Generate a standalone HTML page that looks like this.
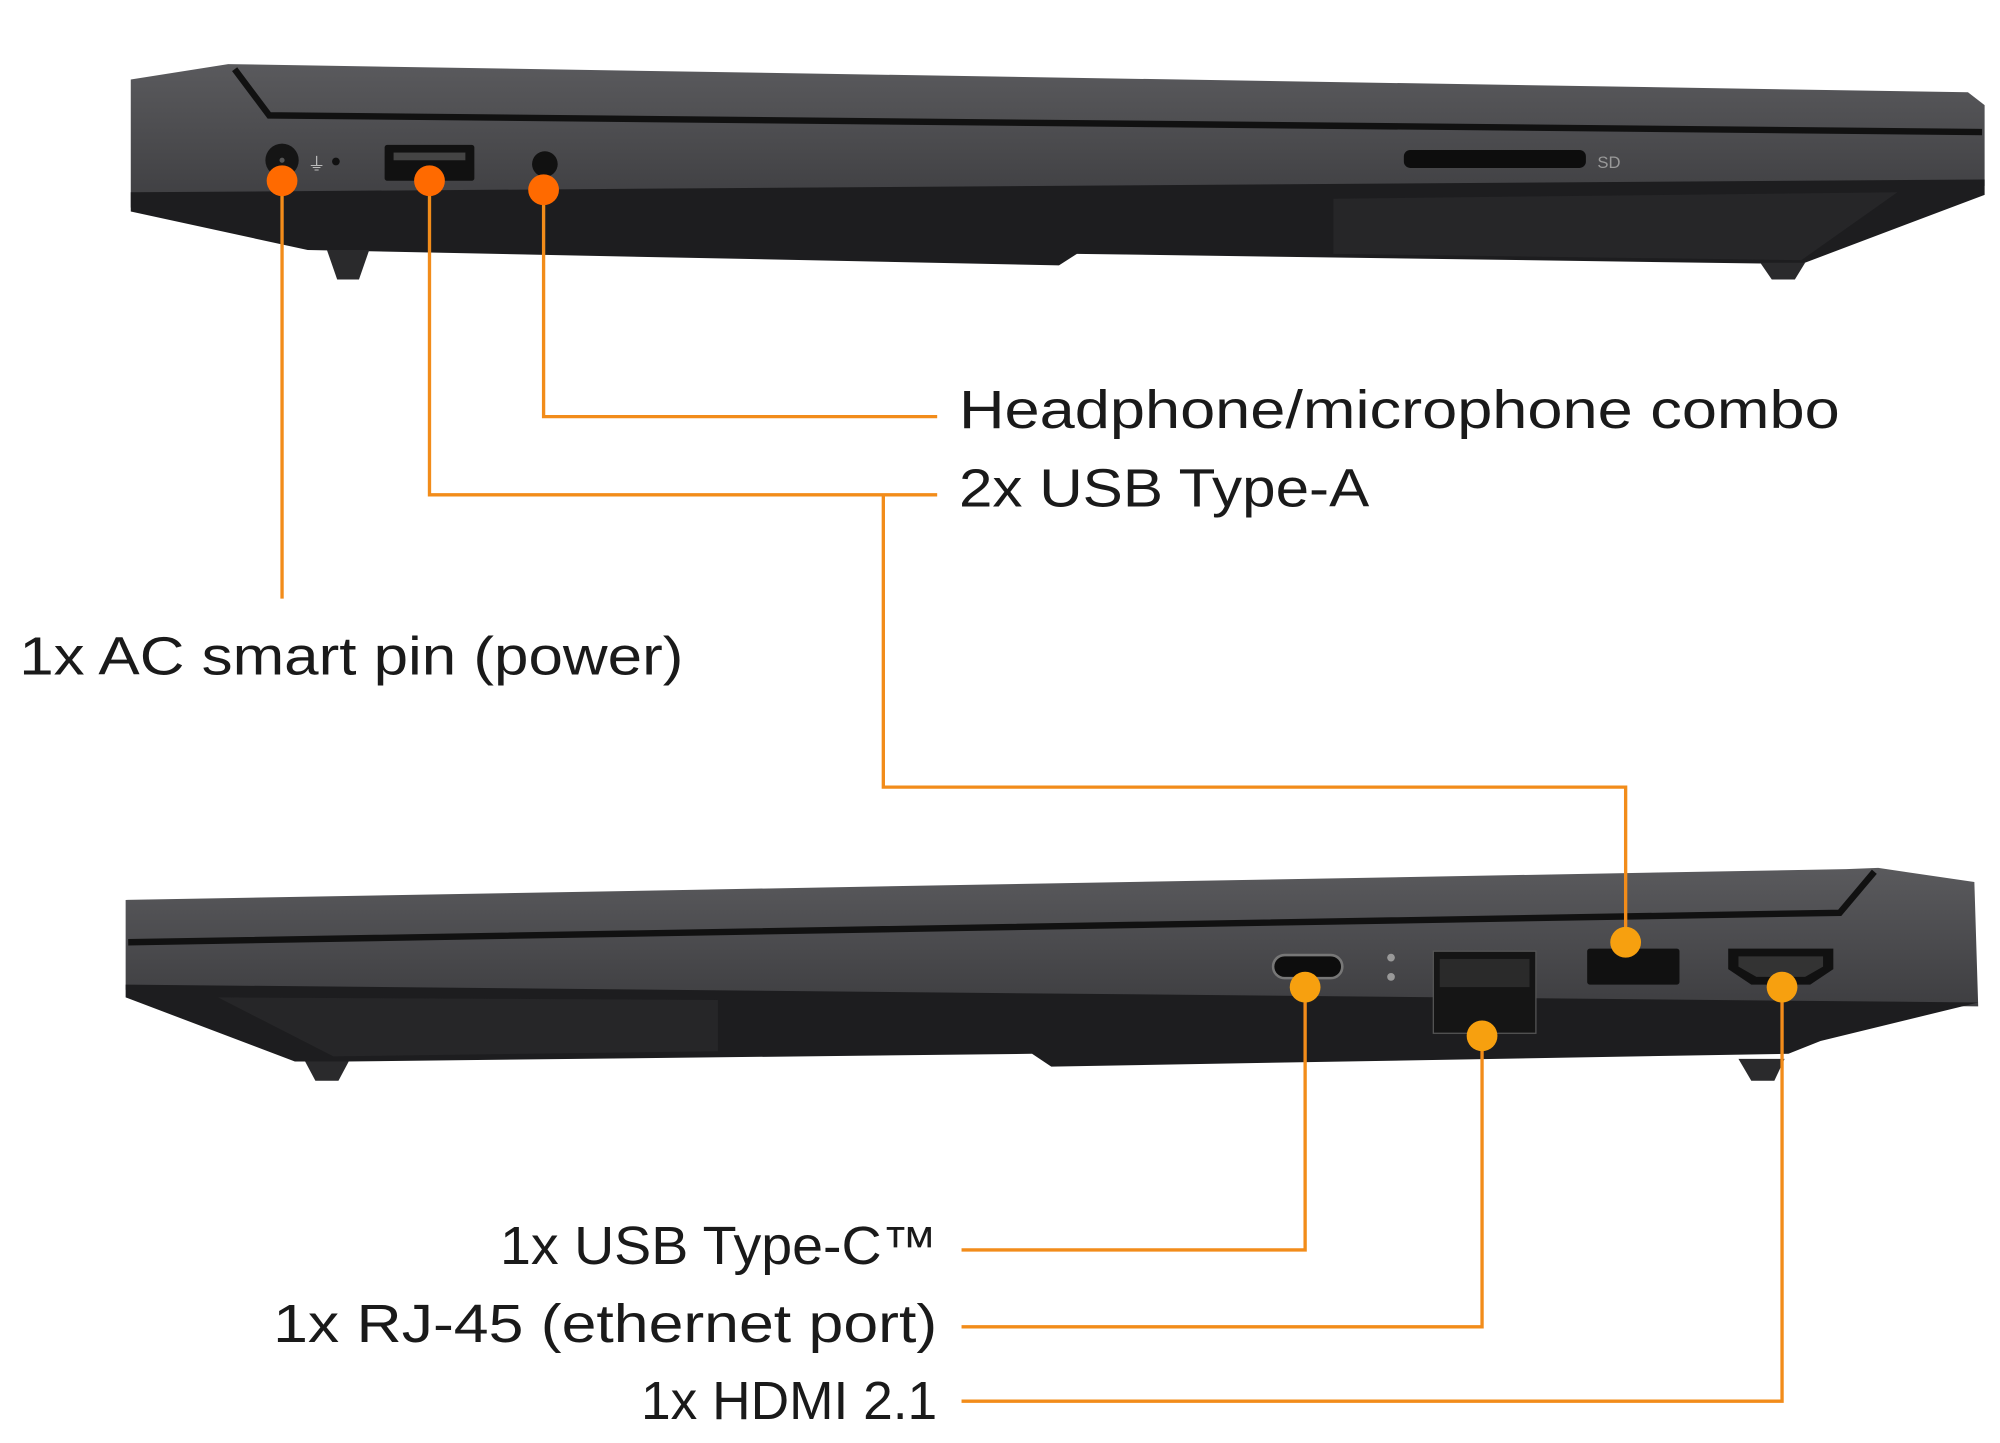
<!DOCTYPE html>
<html><head><meta charset="utf-8"><style>
html,body{margin:0;padding:0;background:#fff;width:2000px;height:1443px;overflow:hidden}
svg{display:block}
text{font-family:"Liberation Sans",sans-serif;fill:#1a1a1a}
</style></head><body>
<svg width="2000" height="1443" viewBox="0 0 1560 1125.6" preserveAspectRatio="none" xmlns="http://www.w3.org/2000/svg">
<defs>
<linearGradient id="g1" x1="0" y1="0" x2="0" y2="1"><stop offset="0" stop-color="#5a5a5d"/><stop offset="1" stop-color="#3e3e41"/></linearGradient>
</defs>
<!-- TOP LAPTOP -->
<polygon points="102,62 178,50 1535,72 1548,82 1548,145 102,162" fill="url(#g1)"/>
<polyline points="183,54 210,90 1546,103" fill="none" stroke="#111" stroke-width="5"/>
<polygon points="102,150 1548,140 1548,152 1405,206 840,198 826,207 240,195 102,165" fill="#1d1d1f"/>
<polygon points="1040,155 1480,150 1405,203 1040,198" fill="#262628"/>
<polygon points="255,195 288,195 280,218 263,218" fill="#2a2a2c"/>
<polygon points="1373,205 1408,205 1400,218 1382,218" fill="#2a2a2c"/>
<circle cx="220" cy="125" r="13" fill="#151515"/>
<circle cx="220" cy="125" r="2" fill="#555"/>
<circle cx="262" cy="126" r="3" fill="#111"/>
<text x="240" y="133" font-size="14" style="fill:#bbb">⏚</text>
<rect x="300" y="113" width="70" height="28" rx="2" fill="#111"/>
<rect x="307" y="119" width="56" height="6" fill="#444"/>
<circle cx="425" cy="128" r="10" fill="#111"/>
<rect x="1095" y="117" width="142" height="14" rx="5" fill="#0d0d0d"/>
<text x="1246" y="131" font-size="13" style="fill:#999">SD</text>
<!-- BOTTOM LAPTOP -->
<polygon points="98,702 1440,678 1465,677 1540,688 1543,785 98,772" fill="url(#g1)"/>
<polyline points="100,735 1435,712 1462,680" fill="none" stroke="#111" stroke-width="5"/>
<polygon points="98,768 1543,782 1420,812 1395,822 820,832 805,822 270,828 230,828 98,778" fill="#1d1d1f"/>
<polygon points="170,778 560,780 560,820 260,824" fill="#262628"/>
<polygon points="238,828 272,828 264,843 246,843" fill="#2a2a2c"/>
<polygon points="1356,826 1392,826 1384,843 1366,843" fill="#2a2a2c"/>
<rect x="993" y="745" width="54" height="18" rx="9" fill="#0d0d0d" stroke="#777" stroke-width="2"/>
<circle cx="1085" cy="747" r="3" fill="#999"/><circle cx="1085" cy="762" r="3" fill="#999"/>
<rect x="1118" y="742" width="80" height="64" fill="#151515" stroke="#555" stroke-width="1"/>
<rect x="1123" y="748" width="70" height="22" fill="#2a2a2a"/>
<rect x="1238" y="740" width="72" height="28" rx="2" fill="#111"/>
<polygon points="1348,740 1430,740 1430,756 1412,768 1366,768 1348,756" fill="#111"/>
<polygon points="1356,746 1422,746 1422,754 1408,762 1370,762 1356,754" fill="#333"/>
<!-- CONNECTORS -->
<g fill="none" stroke="#f28c1a" stroke-width="2.6">
<polyline points="220,141 220,467"/>
<polyline points="335,141 335,386 731,386"/>
<polyline points="689,386 689,614 1268,614 1268,735"/>
<polyline points="424,148 424,325 731,325"/>
<polyline points="1018,770 1018,975 750,975"/>
<polyline points="1156,808 1156,1035 750,1035"/>
<polyline points="1390,770 1390,1093 750,1093"/>
</g>
<g fill="#ff6a00">
<circle cx="220" cy="141" r="12"/><circle cx="335" cy="141" r="12"/><circle cx="424" cy="148" r="12"/>
</g>
<g fill="#f7a00f">
<circle cx="1268" cy="735" r="12"/><circle cx="1018" cy="770" r="12"/><circle cx="1156" cy="808" r="12"/><circle cx="1390" cy="770" r="12"/>
</g>
<!-- LABELS -->
<text x="748" y="334" font-size="42" textLength="687" lengthAdjust="spacingAndGlyphs">Headphone/microphone combo</text>
<text x="748" y="395" font-size="42" textLength="320" lengthAdjust="spacingAndGlyphs">2x USB Type-A</text>
<text x="15" y="526" font-size="42" textLength="518" lengthAdjust="spacingAndGlyphs">1x AC smart pin (power)</text>
<text x="390" y="986" font-size="42" textLength="341" lengthAdjust="spacingAndGlyphs">1x USB Type-C™</text>
<text x="213" y="1047" font-size="42" textLength="518" lengthAdjust="spacingAndGlyphs">1x RJ-45 (ethernet port)</text>
<text x="500" y="1107" font-size="42" textLength="231" lengthAdjust="spacingAndGlyphs">1x HDMI 2.1</text>
</svg>
</body></html>
